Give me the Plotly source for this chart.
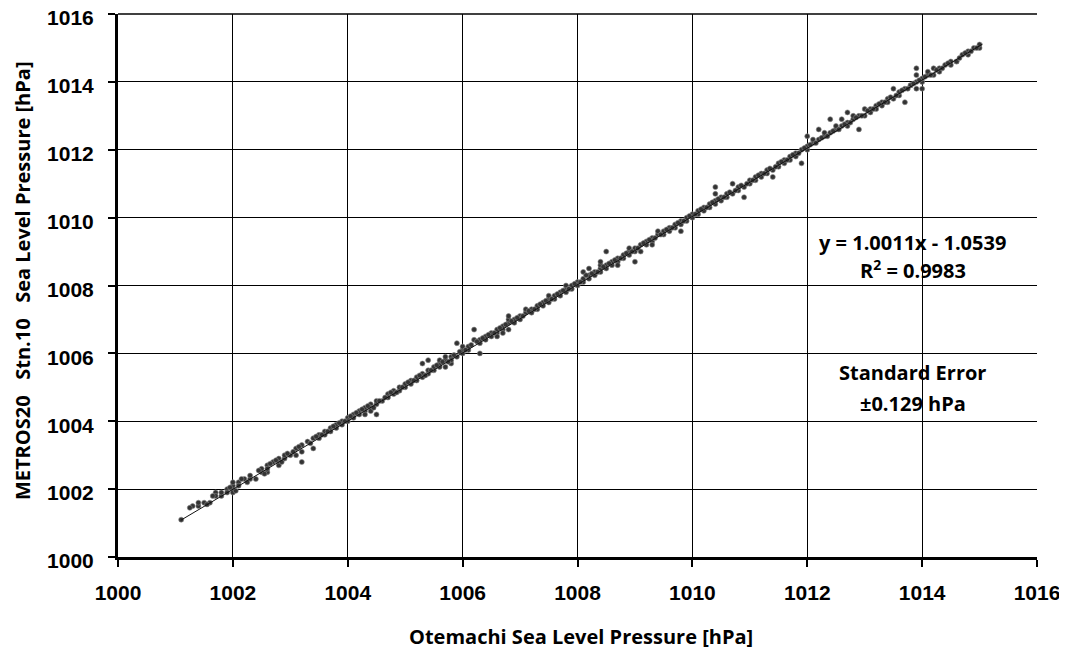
import plotly.graph_objects as go

# Otemachi sea level pressure (x) vs METROS20 Stn.10 sea level pressure (y), hPa
x_1001 = [1001.1, 1001.3, 1001.4, 1001.4, 1001.5, 1001.6, 1001.7, 1001.7, 1001.8, 1001.8,
          1001.9, 1001.9, 1002.0, 1002.0, 1002.0, 1002.0, 1002.1, 1002.1]
y_1001 = [1001.1, 1001.5, 1001.5, 1001.6, 1001.6, 1001.6, 1001.9, 1001.8, 1001.8, 1001.9,
          1002.0, 1001.9, 1002.0, 1002.1, 1001.9, 1002.2, 1002.2, 1002.1]
x_1002 = [1002.2, 1002.3, 1002.3, 1002.4, 1002.5, 1002.5, 1002.6, 1002.6, 1002.6, 1002.7,
          1002.8, 1002.8, 1002.8, 1002.9, 1002.9, 1003.0]
y_1002 = [1002.3, 1002.3, 1002.4, 1002.3, 1002.5, 1002.6, 1002.5, 1002.7, 1002.6, 1002.8,
          1002.8, 1002.9, 1002.7, 1002.9, 1003.0, 1003.0]
x_1003 = [1003.1, 1003.1, 1003.2, 1003.2, 1003.2, 1003.3, 1003.4, 1003.4, 1003.5, 1003.5,
          1003.6, 1003.6, 1003.7, 1003.7, 1003.8, 1003.8, 1003.9, 1003.9, 1004.0]
y_1003 = [1003.0, 1003.2, 1003.1, 1003.3, 1002.8, 1003.4, 1003.5, 1003.2, 1003.5, 1003.6,
          1003.6, 1003.7, 1003.8, 1003.7, 1003.8, 1003.9, 1003.9, 1004.0, 1004.1]
x_1004 = [1004.0, 1004.1, 1004.1, 1004.2, 1004.2, 1004.3, 1004.3, 1004.3, 1004.4, 1004.4,
          1004.4, 1004.5, 1004.5, 1004.5, 1004.6, 1004.7, 1004.7, 1004.8, 1004.8, 1004.9, 1004.9]
y_1004 = [1004.0, 1004.2, 1004.1, 1004.2, 1004.3, 1004.3, 1004.4, 1004.2, 1004.5, 1004.4,
          1004.3, 1004.5, 1004.6, 1004.2, 1004.6, 1004.8, 1004.7, 1004.8, 1004.9, 1004.9, 1005.0]
x_1005 = [1005.0, 1005.0, 1005.1, 1005.1, 1005.2, 1005.2, 1005.3, 1005.3, 1005.3, 1005.4,
          1005.4, 1005.4, 1005.5, 1005.5, 1005.6, 1005.6, 1005.6, 1005.7, 1005.7, 1005.7,
          1005.8, 1005.8, 1005.8, 1005.9, 1005.9, 1006.0, 1006.0, 1006.0]
y_1005 = [1005.0, 1005.1, 1005.1, 1005.2, 1005.2, 1005.3, 1005.3, 1005.4, 1005.7, 1005.4,
          1005.5, 1005.8, 1005.5, 1005.6, 1005.6, 1005.7, 1005.8, 1005.6, 1005.8, 1005.9,
          1005.7, 1005.9, 1005.8, 1005.9, 1006.3, 1006.0, 1006.1, 1006.2]
x_1006 = [1006.1, 1006.1, 1006.2, 1006.2, 1006.3, 1006.3, 1006.3, 1006.4, 1006.4, 1006.5,
          1006.5, 1006.6, 1006.6, 1006.6, 1006.7, 1006.7, 1006.7, 1006.8, 1006.8, 1006.8,
          1006.8, 1006.9, 1006.9, 1007.0, 1007.0]
y_1006 = [1006.1, 1006.2, 1006.4, 1006.7, 1006.0, 1006.3, 1006.4, 1006.4, 1006.5, 1006.5,
          1006.6, 1006.6, 1006.7, 1006.5, 1006.7, 1006.8, 1006.6, 1006.9, 1007.0, 1007.1,
          1006.7, 1006.9, 1007.0, 1007.1, 1007.0]
x_1007 = [1007.1, 1007.1, 1007.2, 1007.2, 1007.3, 1007.3, 1007.4, 1007.4, 1007.5, 1007.5,
          1007.5, 1007.6, 1007.6, 1007.7, 1007.7, 1007.8, 1007.8, 1007.8, 1007.9, 1007.9,
          1008.0, 1008.0]
y_1007 = [1007.2, 1007.3, 1007.2, 1007.3, 1007.3, 1007.4, 1007.4, 1007.5, 1007.5, 1007.6,
          1007.7, 1007.6, 1007.7, 1007.8, 1007.7, 1007.8, 1007.9, 1008.0, 1007.9, 1008.0,
          1008.1, 1008.0]
x_1008 = [1008.1, 1008.1, 1008.1, 1008.2, 1008.2, 1008.2, 1008.3, 1008.3, 1008.4, 1008.4,
          1008.4, 1008.4, 1008.5, 1008.5, 1008.5, 1008.6, 1008.6, 1008.7, 1008.7, 1008.7,
          1008.8, 1008.8, 1008.9, 1008.9, 1008.9, 1009.0, 1009.0]
y_1008 = [1008.1, 1008.2, 1008.4, 1008.2, 1008.3, 1008.5, 1008.3, 1008.4, 1008.4, 1008.5,
          1008.6, 1008.7, 1008.5, 1008.6, 1009.0, 1008.6, 1008.7, 1008.7, 1008.8, 1008.6,
          1008.8, 1008.9, 1008.9, 1009.0, 1009.1, 1009.0, 1009.1]
x_1009 = [1009.0, 1009.1, 1009.1, 1009.2, 1009.2, 1009.3, 1009.3, 1009.3, 1009.4, 1009.4,
          1009.5, 1009.5, 1009.6, 1009.6, 1009.7, 1009.7, 1009.8, 1009.8, 1009.8, 1009.9,
          1009.9, 1010.0, 1010.0]
y_1009 = [1008.7, 1009.2, 1009.0, 1009.2, 1009.3, 1009.3, 1009.4, 1009.2, 1009.5, 1009.6,
          1009.5, 1009.6, 1009.6, 1009.7, 1009.7, 1009.8, 1009.8, 1009.9, 1009.6, 1009.9,
          1010.0, 1010.0, 1010.1]
x_1010 = [1010.1, 1010.1, 1010.2, 1010.2, 1010.3, 1010.3, 1010.4, 1010.4, 1010.4, 1010.4,
          1010.5, 1010.5, 1010.6, 1010.6, 1010.7, 1010.7, 1010.8, 1010.8, 1010.9, 1010.9,
          1011.0, 1011.0]
y_1010 = [1010.1, 1010.2, 1010.2, 1010.3, 1010.3, 1010.4, 1010.4, 1010.5, 1010.7, 1010.9,
          1010.5, 1010.6, 1010.6, 1010.7, 1010.7, 1011.0, 1010.8, 1010.9, 1010.9, 1010.6,
          1011.0, 1011.1]
x_1011 = [1011.1, 1011.1, 1011.2, 1011.2, 1011.3, 1011.3, 1011.4, 1011.4, 1011.5, 1011.5,
          1011.6, 1011.6, 1011.7, 1011.7, 1011.8, 1011.8, 1011.9, 1011.9, 1012.0, 1012.0, 1012.0]
y_1011 = [1011.1, 1011.2, 1011.2, 1011.3, 1011.3, 1011.4, 1011.4, 1011.2, 1011.5, 1011.6,
          1011.6, 1011.7, 1011.7, 1011.8, 1011.8, 1011.9, 1012.0, 1011.6, 1012.0, 1012.1, 1012.4]
x_1012 = [1012.1, 1012.1, 1012.2, 1012.2, 1012.3, 1012.3, 1012.4, 1012.4, 1012.5, 1012.5,
          1012.6, 1012.6, 1012.7, 1012.7, 1012.7, 1012.8, 1012.8, 1012.9, 1012.9, 1013.0, 1013.0]
y_1012 = [1012.2, 1012.3, 1012.3, 1012.6, 1012.4, 1012.5, 1012.5, 1012.9, 1012.6, 1012.7,
          1012.7, 1012.9, 1012.8, 1012.7, 1013.1, 1012.9, 1013.0, 1013.0, 1012.6, 1013.0, 1013.2]
x_1013 = [1013.1, 1013.1, 1013.2, 1013.2, 1013.3, 1013.3, 1013.4, 1013.4, 1013.5, 1013.5,
          1013.6, 1013.6, 1013.7, 1013.7, 1013.8, 1013.8, 1013.9, 1013.9, 1013.9, 1013.9,
          1014.0, 1014.0, 1014.0]
y_1013 = [1013.2, 1013.1, 1013.3, 1013.2, 1013.4, 1013.3, 1013.5, 1013.4, 1013.5, 1013.8,
          1013.6, 1013.7, 1013.8, 1013.4, 1013.9, 1013.9, 1014.0, 1014.2, 1014.4, 1013.8,
          1014.0, 1014.1, 1013.8]
x_1014 = [1014.1, 1014.1, 1014.2, 1014.2, 1014.3, 1014.3, 1014.4, 1014.5, 1014.5, 1014.6,
          1014.6, 1014.7, 1014.8, 1014.8, 1014.9, 1015.0, 1015.0]
y_1014 = [1014.2, 1014.3, 1014.2, 1014.4, 1014.4, 1014.3, 1014.5, 1014.6, 1014.5, 1014.6,
          1014.6, 1014.8, 1014.8, 1014.9, 1015.0, 1015.0, 1015.1]

# Additional readings between the 0.1 hPa steps (dense core of the band)
x_mid_a = [1001.25, 1001.55, 1001.65, 1001.95, 1002.05, 1002.15, 1002.25, 1002.45, 1002.55, 1002.65,
           1002.75, 1002.85, 1002.95, 1003.05, 1003.15, 1003.35, 1003.45, 1003.55, 1003.65, 1003.75]
y_mid_a = [1001.45, 1001.55, 1001.8, 1002.05, 1001.95, 1002.3, 1002.2, 1002.55, 1002.45, 1002.75,
           1002.85, 1002.8, 1003.05, 1003.1, 1003.25, 1003.35, 1003.55, 1003.6, 1003.7, 1003.85]
x_mid_b = [1003.85, 1003.95, 1004.05, 1004.15, 1004.25, 1004.35, 1004.45, 1004.55, 1004.65, 1004.75,
           1004.85, 1004.95, 1005.05, 1005.15, 1005.25, 1005.35, 1005.45, 1005.55, 1005.65, 1005.75,
           1005.85, 1005.95]
y_mid_b = [1003.95, 1004.0, 1004.15, 1004.25, 1004.35, 1004.45, 1004.4, 1004.6, 1004.7, 1004.85,
           1004.85, 1005.0, 1005.15, 1005.2, 1005.35, 1005.35, 1005.5, 1005.65, 1005.75, 1005.75,
           1005.95, 1006.05]
x_mid_c = [1006.05, 1006.15, 1006.25, 1006.35, 1006.45, 1006.55, 1006.65, 1006.75, 1006.85, 1006.95,
           1007.05, 1007.15, 1007.25, 1007.35, 1007.45, 1007.55, 1007.65, 1007.75, 1007.85, 1007.95]
y_mid_c = [1006.1, 1006.25, 1006.35, 1006.45, 1006.55, 1006.6, 1006.75, 1006.85, 1006.95, 1007.05,
           1007.1, 1007.25, 1007.3, 1007.45, 1007.55, 1007.6, 1007.75, 1007.85, 1007.9, 1008.05]
x_mid_d = [1008.05, 1008.15, 1008.25, 1008.35, 1008.45, 1008.55, 1008.65, 1008.75, 1008.85, 1008.95,
           1009.05, 1009.15, 1009.25, 1009.35, 1009.45, 1009.55, 1009.65, 1009.75, 1009.85, 1009.95]
y_mid_d = [1008.1, 1008.3, 1008.35, 1008.4, 1008.55, 1008.65, 1008.75, 1008.8, 1008.95, 1009.0,
           1009.1, 1009.25, 1009.35, 1009.4, 1009.5, 1009.65, 1009.7, 1009.85, 1009.9, 1010.05]
x_mid_e = [1010.05, 1010.15, 1010.25, 1010.35, 1010.45, 1010.55, 1010.65, 1010.75, 1010.85, 1010.95,
           1011.05, 1011.15, 1011.25, 1011.35, 1011.45, 1011.55, 1011.65, 1011.75, 1011.85, 1011.95]
y_mid_e = [1010.1, 1010.25, 1010.3, 1010.45, 1010.55, 1010.6, 1010.75, 1010.8, 1010.95, 1011.0,
           1011.1, 1011.25, 1011.3, 1011.45, 1011.5, 1011.65, 1011.7, 1011.85, 1011.9, 1012.05]
x_mid_f = [1012.05, 1012.15, 1012.25, 1012.35, 1012.45, 1012.55, 1012.65, 1012.75, 1012.85, 1012.95,
           1013.05, 1013.15, 1013.25, 1013.35, 1013.45, 1013.55, 1013.65, 1013.75, 1013.85, 1013.95,
           1014.05, 1014.15, 1014.25, 1014.35, 1014.45, 1014.65, 1014.75, 1014.85, 1014.95]
y_mid_f = [1012.15, 1012.2, 1012.35, 1012.4, 1012.55, 1012.6, 1012.75, 1012.8, 1012.95, 1013.0,
           1013.15, 1013.2, 1013.35, 1013.4, 1013.55, 1013.6, 1013.75, 1013.8, 1013.95, 1014.05,
           1014.15, 1014.2, 1014.35, 1014.4, 1014.55, 1014.7, 1014.85, 1014.9, 1015.0]

# Linear fit y = 1.0011x - 1.0539 drawn across the data range
trend_x = [1001.1, 1015.05]
trend_y = [1001.09, 1015.11]

tick_vals = [1000, 1002, 1004, 1006, 1008, 1010, 1012, 1014, 1016]

x_all = (x_1001 + x_1002 + x_1003 + x_1004 + x_1005 + x_1006 + x_1007
         + x_1008 + x_1009 + x_1010 + x_1011 + x_1012 + x_1013 + x_1014
         + x_mid_a + x_mid_b + x_mid_c + x_mid_d + x_mid_e + x_mid_f)
y_all = (y_1001 + y_1002 + y_1003 + y_1004 + y_1005 + y_1006 + y_1007
         + y_1008 + y_1009 + y_1010 + y_1011 + y_1012 + y_1013 + y_1014
         + y_mid_a + y_mid_b + y_mid_c + y_mid_d + y_mid_e + y_mid_f)

fig = go.Figure()
fig.add_trace(go.Scatter(
    x=x_all, y=y_all, mode="markers",
    marker=dict(size=5, color="#333333", symbol="circle",
                line=dict(width=0.6, color="#888888")),
    showlegend=False, hoverinfo="x+y"))
fig.add_trace(go.Scatter(
    x=trend_x, y=trend_y, mode="lines",
    line=dict(color="#111111", width=1),
    showlegend=False, hoverinfo="skip"))

tick_font = dict(family="Liberation Sans", size=21, color="black", weight="bold")
text_font = dict(family="Open Sans", size=20, color="black", weight="bold")

axis_common = dict(
    tickmode="array", tickvals=tick_vals, ticktext=[str(v) for v in tick_vals],
    showgrid=True, gridcolor="black", gridwidth=1,
    showline=True, linecolor="black", linewidth=3,
    ticks="outside", ticklen=7, tickwidth=2, tickcolor="black",
    tickfont=tick_font, zeroline=False, range=[1000, 1016],
    automargin=False, ticklabeloverflow="allow",
)

# The page body adds an 8 px offset, so the figure is 8 px smaller than the window
fig.update_layout(
    width=1059, height=643,
    margin=dict(l=110, r=30, t=6, b=94),
    paper_bgcolor="white", plot_bgcolor="white",
    xaxis=dict(**axis_common, ticklabelstandoff=8),
    yaxis=dict(**axis_common, ticklabelstandoff=10, ticklabelshift=4),
    shapes=[
        # frame edge at the top of the plot area (1016 gridline)
        dict(type="line", xref="paper", yref="paper", x0=0, x1=1, y0=1, y1=1,
             line=dict(color="black", width=1.5), layer="above"),
    ],
    annotations=[
        dict(x=0.504, y=-0.147, xref="paper", yref="paper",
             text="Otemachi Sea Level Pressure [hPa]",
             showarrow=False, font=text_font, xanchor="center", yanchor="middle"),
        dict(x=-0.1045, y=0.51, xref="paper", yref="paper", textangle=-90,
             text="METROS20\u00a0\u00a0\u00a0Stn.10\u00a0\u00a0\u00a0Sea Level Pressure [hPa]",
             showarrow=False, font=text_font, xanchor="center", yanchor="middle"),
        dict(x=0.865, y=0.580, xref="paper", yref="paper",
             text="y = 1.0011x - 1.0539",
             showarrow=False, font=text_font, xanchor="center", yanchor="middle"),
        dict(x=0.865, y=0.530, xref="paper", yref="paper",
             text="R<sup>2</sup> = 0.9983",
             showarrow=False, font=text_font, xanchor="center", yanchor="middle"),
        dict(x=0.865, y=0.339, xref="paper", yref="paper",
             text="Standard Error",
             showarrow=False, font=text_font, xanchor="center", yanchor="middle"),
        dict(x=0.865, y=0.282, xref="paper", yref="paper",
             text="\u00b10.129 hPa",
             showarrow=False, font=text_font, xanchor="center", yanchor="middle"),
    ],
)

fig.write_html("out.html")
